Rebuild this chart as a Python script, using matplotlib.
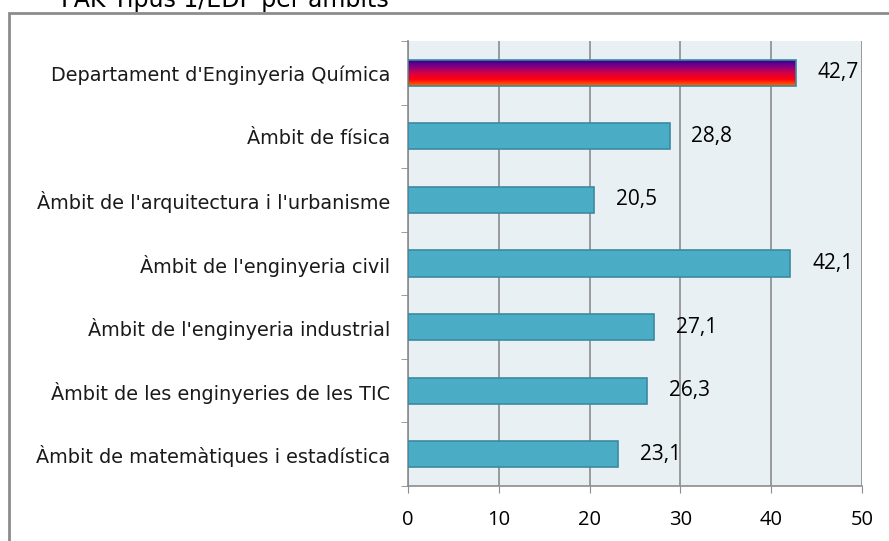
import matplotlib.pyplot as plt
import numpy as np
from matplotlib.colors import LinearSegmentedColormap
from matplotlib.patches import Rectangle

title = "PAK Tipus 1/EDP per àmbits"
categories = ["Departament d'Enginyeria Química",
              "Àmbit de física",
              "Àmbit de l'arquitectura i l'urbanisme",
              "Àmbit de l'enginyeria civil",
              "Àmbit de l'enginyeria industrial",
              "Àmbit de les enginyeries de les TIC",
              "Àmbit de matemàtiques i estadística"]
values = [42.7, 28.8, 20.5, 42.1, 27.1, 26.3, 23.1]
xticks = [0, 10, 20, 30, 40, 50]

W, H = 889, 541
fig = plt.figure(figsize=(W / 100, H / 100), dpi=100)
ax = fig.add_axes([408 / W, 1 - 486 / H, (862 - 408) / W, (486 - 41) / H])
ax.set_facecolor('#e9f0f4')

y = np.arange(len(categories))[::-1]
bh = 0.41
bars = ax.barh(y, values, height=bh, color='#4bacc6', edgecolor='#3a8aa0',
               linewidth=1.2, zorder=3)

# gradient fill on the first bar
grad = LinearSegmentedColormap.from_list('g', ['#2a0090', '#7a0088', '#d0004a',
                                              '#ff0010', '#ff6a00'])
b0 = bars[0]
b0.set_facecolor('none')
img = ax.imshow(np.linspace(0, 1, 100).reshape(-1, 1), cmap=grad, aspect='auto',
                extent=[0, values[0], y[0] - bh / 2, y[0] + bh / 2],
                origin='upper', zorder=2.9)
img.set_clip_path(b0)

for yi, v in zip(y, values):
    ax.text(v + 2.4, yi, f"{v:.1f}".replace('.', ','), va='center', ha='left',
            fontsize=15, family='Open Sans', color='black', zorder=4)

ax.set_xlim(0, 50)
ax.set_ylim(-0.5, len(categories) - 0.5)
ax.set_xticks(xticks)
ax.set_xticklabels([str(t) for t in xticks], family='Open Sans', fontsize=14.5)
ax.set_yticks(y)
ax.set_yticklabels(categories, fontsize=13.9, color='#1a1a1a')
ax.set_yticks(np.arange(-0.5, len(categories)), minor=True)
ax.tick_params(axis='y', which='major', length=0, pad=13)
ax.tick_params(axis='y', which='minor', length=5, color='#8c8c8c', direction='out')
ax.tick_params(axis='x', length=5, color='#8c8c8c', direction='out', pad=12)
ax.grid(axis='x', color='#8c8c8c', linewidth=1.2, zorder=1)
for s in ['top', 'right']:
    ax.spines[s].set_visible(False)
for s in ['left', 'bottom']:
    ax.spines[s].set_color('#8c8c8c')
    ax.spines[s].set_linewidth(1.2)

# outer chart border
fig.patches.append(Rectangle((9 / W, -0.1), 1.1, 1 - 13 / H + 0.1,
                             transform=fig.transFigure, fill=False,
                             edgecolor='#8c8c8c', linewidth=2))
fig.text(225 / W, 1 - 7 / H, title, ha='center', va='baseline', fontsize=17)

fig.savefig('out.png', dpi=100)
